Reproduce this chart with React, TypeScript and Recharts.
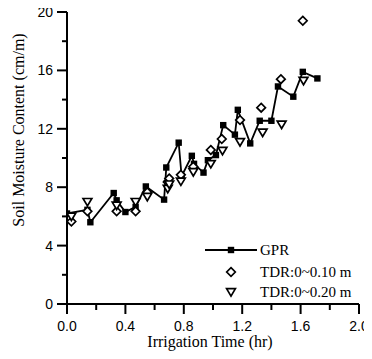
import React from 'react';
import { ComposedChart, Line, Scatter, XAxis, YAxis, Label } from 'recharts';

const gprTime = [0, 0.14, 0.16, 0.32, 0.34, 0.40, 0.47, 0.54, 0.665, 0.68, 0.765, 0.785, 0.855, 0.87, 0.935, 0.965, 1.02, 1.07, 1.15, 1.17, 1.255, 1.32, 1.40, 1.445, 1.55, 1.615, 1.715];
const gprValue = [6.2, 6.45, 5.6, 7.6, 7.1, 6.3, 6.65, 8.05, 7.15, 9.35, 11.05, 8.75, 10.15, 9.6, 9.0, 9.85, 10.2, 12.25, 11.6, 13.3, 11.0, 12.55, 12.55, 14.9, 14.2, 15.9, 15.45];

const tdr10Time = [0.03, 0.14, 0.34, 0.47, 0.55, 0.69, 0.70, 0.78, 0.865, 0.985, 1.06, 1.185, 1.33, 1.465, 1.615];
const tdr10Value = [5.65, 6.35, 6.35, 6.35, 7.65, 8.35, 8.6, 8.85, 9.4, 10.55, 11.3, 12.6, 13.45, 15.4, 19.4];

const tdr20Time = [0.03, 0.14, 0.34, 0.47, 0.55, 0.69, 0.70, 0.78, 0.865, 0.985, 1.065, 1.185, 1.34, 1.47, 1.62];
const tdr20Value = [6.0, 7.0, 6.75, 7.0, 7.35, 7.9, 8.2, 8.4, 9.05, 9.6, 10.5, 11.1, 11.75, 12.3, 15.3];

const xTicks = [0, 0.2, 0.4, 0.6, 0.8, 1.0, 1.2, 1.4, 1.6, 1.8, 2.0];
const yTicks = [0, 2, 4, 6, 8, 10, 12, 14, 16, 18, 20];
const seriesNames = ['GPR', 'TDR:0~0.10 m', 'TDR:0~0.20 m'];

const gprData = gprTime.map((t, i) => ({ t, v: gprValue[i] }));
const tdr10Data = tdr10Time.map((t, i) => ({ t, v: tdr10Value[i] }));
const tdr20Data = tdr20Time.map((t, i) => ({ t, v: tdr20Value[i] }));

const SANS = '"Liberation Sans", Arial, sans-serif';
const SERIF = '"Liberation Serif", "Times New Roman", serif';

const Square = ({ cx, cy }: { cx: number; cy: number }) => (
  <rect x={cx - 3.2} y={cy - 3.2} width={6.4} height={6.4} fill="#000" />
);
const Diamond = ({ cx, cy }: { cx: number; cy: number }) => (
  <path d={`M${cx},${cy - 4.3}L${cx + 4.3},${cy}L${cx},${cy + 4.3}L${cx - 4.3},${cy}Z`} fill="#fff" stroke="#000" strokeWidth={1.7} />
);
const TriDown = ({ cx, cy }: { cx: number; cy: number }) => (
  <path d={`M${cx - 4.4},${cy - 3.3}L${cx + 4.4},${cy - 3.3}L${cx},${cy + 4.1}Z`} fill="#fff" stroke="#000" strokeWidth={1.7} />
);

const XTick = (props: any) => {
  const { x, y, payload } = props;
  const v = payload.value;
  const major = Math.abs(v / 0.4 - Math.round(v / 0.4)) < 1e-6;
  return (
    <g>
      <line x1={x} x2={x} y1={y} y2={y + (major ? 10 : 6)} stroke="#000" strokeWidth={2} />
      {major && (
        <text x={x} y={y + 27} textAnchor="middle" fontFamily={SANS} fontSize={14} fill="#000">
          {v.toFixed(1)}
        </text>
      )}
    </g>
  );
};

const YTick = (props: any) => {
  const { x, y, payload } = props;
  const v = payload.value;
  const major = v % 4 === 0;
  return (
    <g>
      <line x1={x} x2={x - (major ? 10 : 5)} y1={y} y2={y} stroke="#000" strokeWidth={2} />
      {major && (
        <text x={x - 14} y={y} dy="0.36em" textAnchor="end" fontFamily={SANS} fontSize={14} fill="#000">
          {v}
        </text>
      )}
    </g>
  );
};

const LegendBox = () => (
  <svg width={174} height={66} style={{ position: 'absolute', left: 198, top: 238, overflow: 'visible' }}>
    <line x1={7} x2={59} y1={12} y2={12} stroke="#000" strokeWidth={2} />
    <Square cx={33} cy={12} />
    <Diamond cx={33} cy={34} />
    <TriDown cx={33} cy={54} />
    {seriesNames.map((n, i) => (
      <text key={n} x={62} y={[12, 34, 54][i]} dy="0.35em" fontFamily={SERIF} fontSize={15} fill="#000">
        {n}
      </text>
    ))}
  </svg>
);

export default function App() {
  return (
    <div style={{ position: 'relative', width: 372, height: 359, margin: '-8px 0 0 -8px' }}>
      <ComposedChart width={372} height={359} margin={{ top: 12, right: 13, left: 8, bottom: 0 }}>
        <XAxis
          type="number"
          dataKey="t"
          domain={[0, 2]}
          ticks={xTicks}
          interval={0}
          tickSize={0}
          tickMargin={0}
          tickLine={false}
          tick={<XTick />}
          height={55}
          axisLine={{ stroke: '#000', strokeWidth: 2 }}
          allowDataOverflow
        >
          <Label
            content={(p: any) => {
              const vb = p.viewBox;
              return (
                <text x={vb.x + vb.width / 2 - 3} y={vb.y + 43} textAnchor="middle" fontFamily={SERIF} fontSize={16} fill="#000">
                  Irrigation Time (hr)
                </text>
              );
            }}
          />
        </XAxis>
        <YAxis
          type="number"
          dataKey="v"
          domain={[0, 20]}
          ticks={yTicks}
          interval={0}
          tickSize={0}
          tickMargin={0}
          tickLine={false}
          tick={<YTick />}
          width={59}
          axisLine={{ stroke: '#000', strokeWidth: 2 }}
          allowDataOverflow
        >
          <Label
            content={(p: any) => {
              const vb = p.viewBox;
              const cx = vb.x + 10;
              const cy = vb.y + 118;
              return (
                <text x={cx} y={cy} dy="0.35em" transform={`rotate(-90 ${cx} ${cy})`} textAnchor="middle" fontFamily={SERIF} fontSize={16} fill="#000">
                  Soil Moisture Content (cm/m)
                </text>
              );
            }}
          />
        </YAxis>
        <Line
          data={gprData}
          dataKey="v"
          name={seriesNames[0]}
          type="linear"
          stroke="#000"
          strokeWidth={1.8}
          dot={(p: any) => <Square key={`sq-${p.index}`} cx={p.cx} cy={p.cy} />}
          activeDot={false}
          isAnimationActive={false}
        />
        <Scatter
          data={tdr10Data}
          dataKey="v"
          name={seriesNames[1]}
          shape={(p: any) => <Diamond cx={p.cx} cy={p.cy} />}
          isAnimationActive={false}
        />
        <Scatter
          data={tdr20Data}
          dataKey="v"
          name={seriesNames[2]}
          shape={(p: any) => <TriDown cx={p.cx} cy={p.cy} />}
          isAnimationActive={false}
        />
      </ComposedChart>
      <LegendBox />
    </div>
  );
}
